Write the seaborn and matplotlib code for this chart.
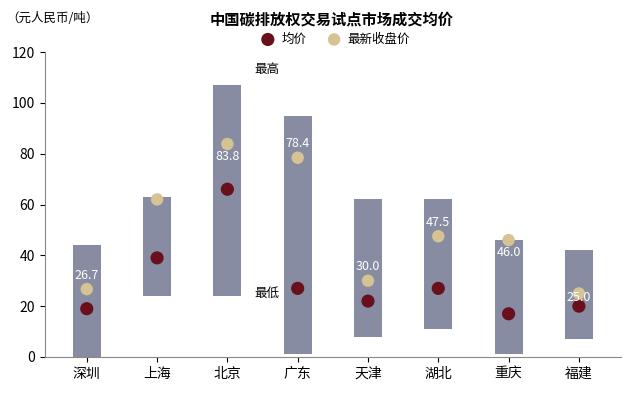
import matplotlib
matplotlib.use("Agg")
import matplotlib.pyplot as plt
import seaborn as sns
import pandas as pd

plt.rcParams["font.family"] = ["Noto Sans CJK SC"]

cities = ["深圳", "上海", "北京", "广东", "天津", "湖北", "重庆", "福建"]
low = [0, 24, 24, 1, 8, 11, 1, 7]
high = [44, 63, 107, 95, 62, 62, 46, 42]
avg = [19, 39, 66, 27, 22, 27, 17, 20]
latest = [26.7, 62, 83.8, 78.4, 30.0, 47.5, 46.0, 25.0]
latest_labels = ["26.7", "", "83.8", "78.4", "30.0", "47.5", "46.0", "25.0"]
label_offsets = [10, 0, -9, 10, 10, 10, -9, -3]

df = pd.DataFrame({"city": cities, "avg": avg, "latest": latest})

fig = plt.figure(figsize=(6.37, 4.0), dpi=100)
ax = fig.add_axes([0.07, 0.1075, 0.905, 0.7625])
pos = list(range(len(cities)))
ax.bar(pos, [h - l for h, l in zip(high, low)], bottom=low, width=0.4,
       color="#878ca3", zorder=1)
sns.scatterplot(data=df, x="city", y="avg", ax=ax, color="#6a0f1c", s=90,
                edgecolor="none", zorder=3, label="均价")
sns.scatterplot(data=df, x="city", y="latest", ax=ax, color="#d6c394", s=80,
                edgecolor="none", zorder=3, label="最新收盘价")
for i, (v, t, o) in enumerate(zip(latest, latest_labels, label_offsets)):
    if t:
        ax.annotate(t, (i, v), xytext=(0, o), textcoords="offset points",
                    ha="center", va="center", color="white", fontsize=9, zorder=4)
ax.text(2.38, 113, "最高", fontsize=9, style="italic", ha="left", va="center")
ax.text(2.38, 25, "最低", fontsize=9, style="italic", ha="left", va="center")

ax.set_ylim(0, 120)
ax.set_yticks(range(0, 121, 20))
ax.set_xlim(-0.6, 7.6)
ax.set_xlabel("")
ax.set_ylabel("")
for s in ["top", "right"]:
    ax.spines[s].set_visible(False)
ax.spines["left"].set_color("#888888")
ax.spines["bottom"].set_color("#888888")
ax.tick_params(labelsize=10)
ax.legend(loc="upper center", bbox_to_anchor=(0.5, 1.1), ncol=2, frameon=False,
          fontsize=9, handletextpad=0.1, columnspacing=1.2)
fig.text(0.52, 0.95, "中国碳排放权交易试点市场成交均价", ha="center", va="center",
         fontsize=11, fontweight="bold")
fig.text(0.01, 0.955, "（元人民币/吨）", ha="left", va="center", fontsize=9)
fig.savefig("out.png", dpi=100)
